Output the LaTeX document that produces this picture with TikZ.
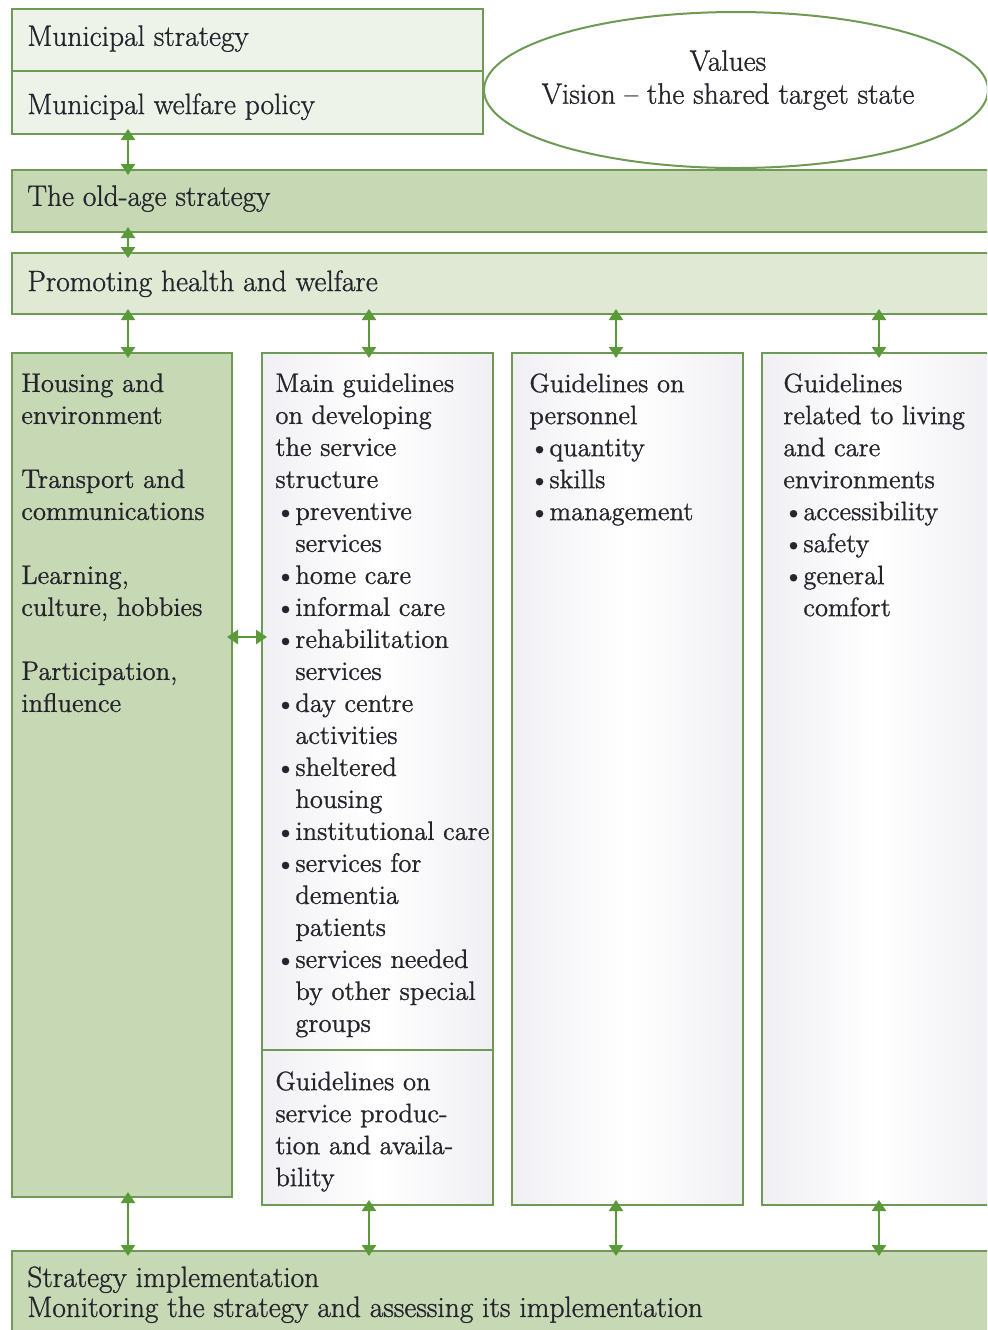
\documentclass[tikz,border=0pt]{standalone}
\usepackage{fontspec}
\setmainfont{Latin Modern Roman}[RawFeature={embolden=1.0}]
\usetikzlibrary{arrows.meta,shapes.geometric,fit}
\definecolor{bordergreen}{HTML}{6F9A55}
\definecolor{arrowgreen}{HTML}{5A9A3A}
\definecolor{darkfill}{HTML}{C6D8B4}
\definecolor{lightfill}{HTML}{DFE9D4}
\definecolor{palefill}{HTML}{EEF3EA}
\definecolor{edgegray}{HTML}{F0F0F4}
\definecolor{textcol}{HTML}{24242C}
\newcommand\bl{\makebox[10pt][l]{\textbullet}}
\newcommand\bulind{\hspace*{10pt}}
\begin{document}
\begin{tikzpicture}[x=0.5pt,y=-0.5pt,
  box/.style={draw=bordergreen, line width=1pt, inner sep=0pt},
  darkbox/.style={box, fill=darkfill},
  lightbox/.style={box, fill=lightfill},
  palebox/.style={box, fill=palefill},
  colbox/.style={box, left color=edgegray, right color=edgegray, middle color=white},
  txt/.style={anchor=north west, inner sep=0pt, align=left, text=textcol, font=\fontsize{13.3}{16}\selectfont},
  head/.style={txt, font=\fontsize{14.7}{16.5}\selectfont},
  arr/.style={draw=arrowgreen, line width=1.2pt, >={Triangle[width=7pt,length=5.5pt]}, <->,
              shorten <=-3pt, shorten >=-3pt}]
\useasboundingbox (0,0) rectangle (987,1330);
\clip (0,0) rectangle (987,1330);

% boxes
\node[palebox, fit={(12,9) (483,71)}] (mun1) {};
\node[palebox, fit={(12,71) (483,134)}] (mun2) {};
\node[draw=bordergreen, line width=1pt, fill=white, ellipse, inner sep=0pt,
      minimum width=252pt, minimum height=78pt] (vals) at (736,90) {};
\node[darkbox, fit={(12,170) (995,232)}] (old) {};
\node[lightbox, fit={(12,253) (995,314)}] (prom) {};
\node[darkbox, fit={(12,353) (232,1197)}] (c1) {};
\node[colbox, fit={(262,353) (493,1050)}] (c2a) {};
\node[colbox, fit={(262,1050) (493,1205)}] (c2b) {};
\node[colbox, fit={(512,353) (743,1205)}] (c3) {};
\node[colbox, fit={(762,353) (995,1205)}] (c4) {};
\node[darkbox, fit={(12,1251) (995,1340)}] (impl) {};

% texts
\node[head] (t-mun1) at (27,25) {Municipal strategy};
\node[head] (t-mun2) at (27,93) {Municipal welfare policy};
\node[head, anchor=center, align=center] (t-vals) at (728,80) {Values\\Vision -- the shared target state};
\node[head] (t-old) at (27,185) {The old-age strategy};
\node[head] (t-prom) at (27,270) {Promoting health and welfare};
\node[txt] (t-c1) at (21,373) {Housing and\\environment\\[16pt]Transport and\\communications\\[16pt]Learning,\\culture, hobbies\\[16pt]Participation,\\influence};
\node[txt] (t-c2a) at (275,373) {Main guidelines\\on developing\\the service\\structure\\
\bl preventive\\\bulind services\\\bl home care\\\bl informal care\\\bl rehabilitation\\\bulind services\\
\bl day centre\\\bulind activities\\\bl sheltered\\\bulind housing\\\bl institutional care\\
\bl services for\\\bulind dementia\\\bulind patients\\\bl services needed\\\bulind by other special\\\bulind groups};
\node[txt] (t-c2b) at (275,1071) {Guidelines on\\service produc-\\tion and availa-\\bility};
\node[txt] (t-c3) at (529,373) {Guidelines on\\personnel\\\bl quantity\\\bl skills\\\bl management};
\node[txt] (t-c4) at (783,373) {Guidelines\\related to living\\and care\\environments\\\bl accessibility\\\bl safety\\\bl general\\\bulind comfort};
\node[head, font=\fontsize{14.7}{15}\selectfont] (t-impl) at (27,1266) {Strategy implementation\\Monitoring the strategy and assessing its implementation};

% arrow positions
\coordinate (xa) at (128,0);
\coordinate (xb) at (369,0);
\coordinate (xc) at (616,0);
\coordinate (xd) at (879,0);
\coordinate (yh) at (0,637);

% arrows
\draw[arr] (mun2.south -| xa) -- (old.north -| xa);
\draw[arr] (old.south -| xa) -- (prom.north -| xa);
\draw[arr] (prom.south -| xa) -- (c1.north -| xa);
\draw[arr] (prom.south -| xb) -- (c2a.north -| xb);
\draw[arr] (prom.south -| xc) -- (c3.north -| xc);
\draw[arr] (prom.south -| xd) -- (c4.north -| xd);
\draw[arr] (c1.east |- yh) -- (c2a.west |- yh);
\draw[arr] (c1.south -| xa) -- (impl.north -| xa);
\draw[arr] (c2b.south -| xb) -- (impl.north -| xb);
\draw[arr] (c3.south -| xc) -- (impl.north -| xc);
\draw[arr] (c4.south -| xd) -- (impl.north -| xd);
\end{tikzpicture}
\end{document}
